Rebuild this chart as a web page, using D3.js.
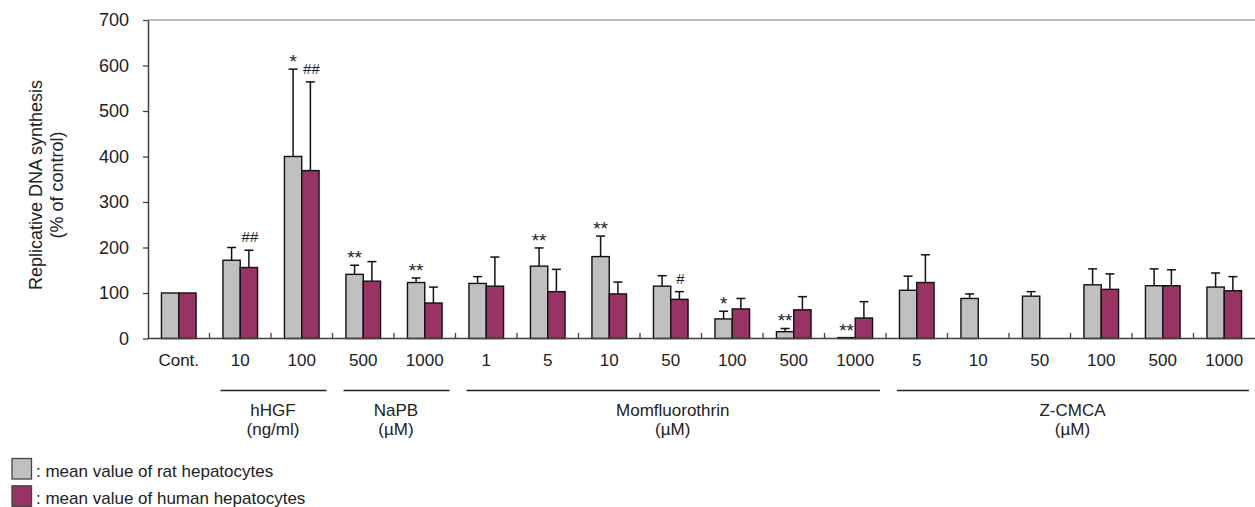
<!DOCTYPE html>
<html>
<head>
<meta charset="utf-8">
<script src="https://cdn.jsdelivr.net/npm/d3@7"></script>
<style>
  html, body { margin: 0; padding: 0; background: #fff; }
  svg { display: block; font-family: "Liberation Sans", Arial, sans-serif; }
</style>
</head>
<body>
<svg id="chart" width="1255" height="507"></svg>
<script>
// ---- data ----
const categories = ["Cont.","10","100","500","1000","1","5","10","50","100","500","1000","5","10","50","100","500","1000"];
const ratValues   = [100,172,400,141,123,121,159,180,115,43,15,2,106,88,93,118,116,113];
const ratErrors   = [0,28,192,20,10,15,40,45,23,17,7,0,31,10,10,35,37,31];
const humanValues = [100,156,369,126,78,115,103,98,86,65,63,45,123,null,null,108,116,105];
const humanErrors = [0,38,195,43,35,64,49,26,17,23,29,36,61,null,null,34,35,31];
const ratSig   = ["","","*","**","**","","**","**","","*","**","**","","","","","",""];
const humanSig = ["","##","##","","","","","","#","","","","","","","","",""];
const groupNames = ["hHGF","NaPB","Momfluorothrin","Z-CMCA"];
const groupUnits = ["(ng/ml)","(\u00B5M)","(\u00B5M)","(\u00B5M)"];
const groupFirst = [1,3,5,12];
const groupLast  = [2,4,11,17];
const yTicks = [0,100,200,300,400,500,600,700];
const yTitle = ["Replicative DNA synthesis","(% of control)"];
const seriesNames = [": mean value of rat hepatocytes", ": mean value of human hepatocytes"];
const seriesColors = ["#c0c0c0", "#993366"];

// ---- layout ----
const svg = d3.select("#chart");
const pL = 148, pR = 1255, pT = 20, pB = 338.5;
const idx = categories.map((c, i) => i);
const x = d3.scaleBand().domain(idx).range([pL, pR]).padding(0);
const y = d3.scaleLinear().domain([0, 700]).range([pB, pT]);
const barW = 17.3;
const axisColor = "#404040";

// top border
svg.append("line").attr("x1", pL).attr("x2", pR).attr("y1", pT).attr("y2", pT)
  .attr("stroke", "#a6a6a6").attr("stroke-width", 1.5);

// y axis
const yAxis = svg.append("g").attr("transform", `translate(${pL},0)`)
  .call(d3.axisLeft(y).tickValues(yTicks).tickSize(5).tickSizeOuter(0).tickPadding(14));
yAxis.select(".domain").attr("stroke", axisColor).attr("stroke-width", 1.5);
yAxis.selectAll(".tick line").attr("stroke", axisColor).attr("stroke-width", 1.3);
yAxis.selectAll(".tick text").attr("font-size", 18).attr("fill", "#222")
  .attr("font-family", "Liberation Sans, Arial, sans-serif");

// y title
const yt = svg.append("g").attr("transform", `translate(0,185)`);
yt.append("text").attr("transform", "translate(42,0) rotate(-90)").attr("text-anchor", "middle")
  .attr("font-size", 18).attr("fill", "#222").text(yTitle[0]);
yt.append("text").attr("transform", "translate(63,0) rotate(-90)").attr("text-anchor", "middle")
  .attr("font-size", 18).attr("fill", "#222").text(yTitle[1]);

// bars
const series = [
  {vals: ratValues, errs: ratErrors, sig: ratSig, color: seriesColors[0], off: -barW},
  {vals: humanValues, errs: humanErrors, sig: humanSig, color: seriesColors[1], off: 0}
];
series.forEach(s => {
  const data = idx.filter(i => s.vals[i] != null).map(i => ({i, v: s.vals[i], e: s.errs[i], sig: s.sig[i]}));
  const bx = d => x(d.i) + x.bandwidth() / 2 + s.off;
  const eb = data.filter(d => d.e > 0);
  svg.append("g").selectAll("line").data(eb).join("line")
    .attr("x1", d => bx(d) + barW / 2).attr("x2", d => bx(d) + barW / 2)
    .attr("y1", d => y(d.v)).attr("y2", d => y(d.v + d.e))
    .attr("stroke", "#111").attr("stroke-width", 1.5);
  svg.append("g").selectAll("line").data(eb).join("line")
    .attr("x1", d => bx(d) + barW / 2 - 4.5).attr("x2", d => bx(d) + barW / 2 + 4.5)
    .attr("y1", d => y(d.v + d.e)).attr("y2", d => y(d.v + d.e))
    .attr("stroke", "#111").attr("stroke-width", 1.5);
  svg.append("g").selectAll("rect").data(data).join("rect")
    .attr("x", d => bx(d)).attr("width", barW)
    .attr("y", d => y(d.v)).attr("height", d => y(0) - y(d.v))
    .attr("fill", s.color).attr("stroke", "#111").attr("stroke-width", 1.4);
  svg.append("g").selectAll("text").data(data.filter(d => d.sig)).join("text")
    .attr("x", d => bx(d) + barW / 2 + (d.sig[0] === "#" ? 1 : 0))
    .attr("y", d => y(d.v + d.e) - (d.sig[0] === "#" ? 8 : 1))
    .attr("text-anchor", "middle")
    .attr("font-size", d => d.sig[0] === "#" ? 15 : 19)
    .attr("fill", "#222").text(d => d.sig);
});

// x axis
svg.append("line").attr("x1", pL).attr("x2", pR).attr("y1", pB).attr("y2", pB)
  .attr("stroke", axisColor).attr("stroke-width", 1.6);
svg.append("g").selectAll("line").data(idx.slice(1)).join("line")
  .attr("x1", d => x(d)).attr("x2", d => x(d))
  .attr("y1", pB).attr("y2", pB - 5.5)
  .attr("stroke", axisColor).attr("stroke-width", 1.3);
svg.append("g").selectAll("text").data(idx).join("text")
  .attr("x", d => x(d) + x.bandwidth() / 2).attr("y", 366)
  .attr("text-anchor", "middle").attr("font-size", 17).attr("fill", "#222")
  .text(d => categories[d]);

// group lines and labels
groupNames.forEach((g, k) => {
  const x0 = x(groupFirst[k]) + 11;
  const x1 = x(groupLast[k]) + x.bandwidth() - 6;
  svg.append("line").attr("x1", x0).attr("x2", x1).attr("y1", 390.5).attr("y2", 390.5)
    .attr("stroke", "#222").attr("stroke-width", 1.3);
  const cxg = (x(groupFirst[k]) + x(groupLast[k]) + x.bandwidth()) / 2 + 2;
  svg.append("text").attr("x", cxg).attr("y", 416).attr("text-anchor", "middle")
    .attr("font-size", 17).attr("fill", "#222").text(g);
  svg.append("text").attr("x", cxg).attr("y", 435).attr("text-anchor", "middle")
    .attr("font-size", 17).attr("fill", "#222").text(groupUnits[k]);
});

// legend
seriesNames.forEach((n, k) => {
  const ly = 458.5 + k * 27.3;
  svg.append("rect").attr("x", 12).attr("y", ly).attr("width", 19.5).attr("height", 20.5)
    .attr("fill", seriesColors[k]).attr("stroke", "#444").attr("stroke-width", 1.3);
  svg.append("text").attr("x", 36).attr("y", ly + 18).attr("font-size", 17).attr("fill", "#222").text(n);
});
</script>
</body>
</html>
